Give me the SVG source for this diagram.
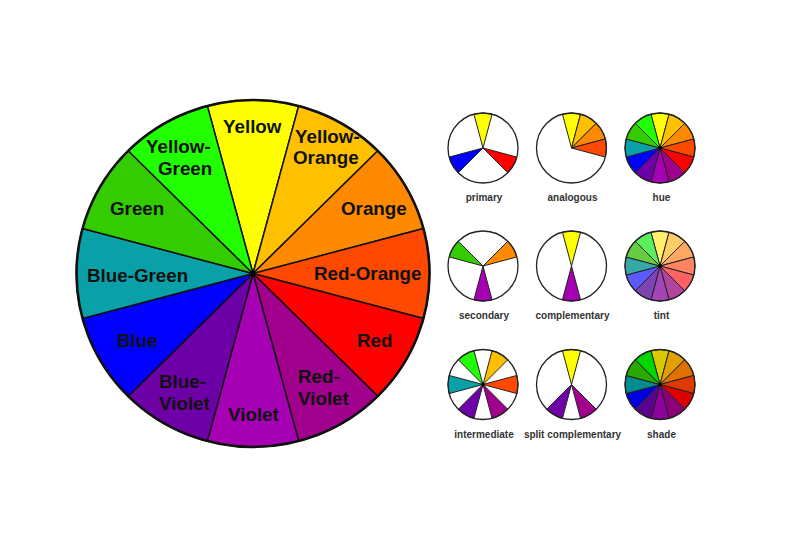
<svg xmlns="http://www.w3.org/2000/svg" xmlns:xlink="http://www.w3.org/1999/xlink" width="800" height="538" viewBox="0 0 800 538">
<style>
.bw{stroke:#111;stroke-width:1.5;stroke-linejoin:round}
.big{font-family:"Liberation Sans",Arial,sans-serif;font-weight:bold;font-size:18.8px;fill:#111}
.sm{font-family:"Liberation Sans",Arial,sans-serif;font-weight:bold;font-size:10px;fill:#333;text-anchor:middle}
.sw{stroke:#222;stroke-width:1;stroke-linejoin:round}
.rim{fill:none;stroke:#222;stroke-width:1.3}
.bg{fill:#fff}
</style>
<defs>
<path id="s0" d="M0 0L-9.06 -33.81A35 35 0 0 1 9.06 -33.81Z"/>
<path id="s1" d="M0 0L9.06 -33.81A35 35 0 0 1 24.75 -24.75Z"/>
<path id="s2" d="M0 0L24.75 -24.75A35 35 0 0 1 33.81 -9.06Z"/>
<path id="s3" d="M0 0L33.81 -9.06A35 35 0 0 1 33.81 9.06Z"/>
<path id="s4" d="M0 0L33.81 9.06A35 35 0 0 1 24.75 24.75Z"/>
<path id="s5" d="M0 0L24.75 24.75A35 35 0 0 1 9.06 33.81Z"/>
<path id="s6" d="M0 0L9.06 33.81A35 35 0 0 1 -9.06 33.81Z"/>
<path id="s7" d="M0 0L-9.06 33.81A35 35 0 0 1 -24.75 24.75Z"/>
<path id="s8" d="M0 0L-24.75 24.75A35 35 0 0 1 -33.81 9.06Z"/>
<path id="s9" d="M0 0L-33.81 9.06A35 35 0 0 1 -33.81 -9.06Z"/>
<path id="s10" d="M0 0L-33.81 -9.06A35 35 0 0 1 -24.75 -24.75Z"/>
<path id="s11" d="M0 0L-24.75 -24.75A35 35 0 0 1 -9.06 -33.81Z"/>
</defs>
<rect width="800" height="538" fill="#fff"/>

<g id="big-wheel">
<path class="bw" fill="#ffff00" d="M253 273.5L207.32 105.91A176.5 173.5 0 0 1 298.68 105.91Z"/>
<path class="bw" fill="#ffc000" d="M253 273.5L298.68 105.91A176.5 173.5 0 0 1 377.8 150.82Z"/>
<path class="bw" fill="#ff8a00" d="M253 273.5L377.8 150.82A176.5 173.5 0 0 1 423.49 228.59Z"/>
<path class="bw" fill="#ff4800" d="M253 273.5L423.49 228.59A176.5 173.5 0 0 1 423.49 318.41Z"/>
<path class="bw" fill="#ff0000" d="M253 273.5L423.49 318.41A176.5 173.5 0 0 1 377.8 396.18Z"/>
<path class="bw" fill="#a0008c" d="M253 273.5L377.8 396.18A176.5 173.5 0 0 1 298.68 441.09Z"/>
<path class="bw" fill="#a600b4" d="M253 273.5L298.68 441.09A176.5 173.5 0 0 1 207.32 441.09Z"/>
<path class="bw" fill="#6e00a8" d="M253 273.5L207.32 441.09A176.5 173.5 0 0 1 128.2 396.18Z"/>
<path class="bw" fill="#0000ff" d="M253 273.5L128.2 396.18A176.5 173.5 0 0 1 82.51 318.41Z"/>
<path class="bw" fill="#0aa0a8" d="M253 273.5L82.51 318.41A176.5 173.5 0 0 1 82.51 228.59Z"/>
<path class="bw" fill="#33cc00" d="M253 273.5L82.51 228.59A176.5 173.5 0 0 1 128.2 150.82Z"/>
<path class="bw" fill="#22ff00" d="M253 273.5L128.2 150.82A176.5 173.5 0 0 1 207.32 105.91Z"/>
<ellipse cx="253" cy="273.5" rx="176.5" ry="173.5" fill="none" stroke="#111" stroke-width="2.6"/>
<circle cx="253" cy="273.5" r="2.5" fill="#000"/>
<text class="big" x="223" y="133">Yellow</text>
<text class="big" x="295" y="143">Yellow-</text>
<text class="big" x="293" y="164">Orange</text>
<text class="big" x="146" y="153">Yellow-</text>
<text class="big" x="158" y="175">Green</text>
<text class="big" x="110" y="215">Green</text>
<text class="big" x="341" y="215">Orange</text>
<text class="big" x="87" y="282">Blue-Green</text>
<text class="big" x="314" y="280">Red-Orange</text>
<text class="big" x="117" y="347">Blue</text>
<text class="big" x="357" y="347">Red</text>
<text class="big" x="159" y="388">Blue-</text>
<text class="big" x="159" y="410">Violet</text>
<text class="big" x="228" y="421">Violet</text>
<text class="big" x="298" y="383">Red-</text>
<text class="big" x="298" y="405">Violet</text>
</g>

<g id="primary" transform="translate(483,148)">
<circle class="bg" r="35"/>
<use xlink:href="#s0" class="sw" fill="#ffff00"/>
<use xlink:href="#s4" class="sw" fill="#ff0000"/>
<use xlink:href="#s8" class="sw" fill="#0000ff"/>
<circle class="rim" r="35"/>
<text class="sm" x="1" y="53">primary</text>
</g>

<g id="analogous" transform="translate(571.5,148)">
<circle class="bg" r="35"/>
<use xlink:href="#s0" class="sw" fill="#ffff00"/>
<use xlink:href="#s1" class="sw" fill="#ffc000"/>
<use xlink:href="#s2" class="sw" fill="#ff8a00"/>
<use xlink:href="#s3" class="sw" fill="#ff4800"/>
<circle class="rim" r="35"/>
<text class="sm" x="1" y="53">analogous</text>
</g>

<g id="hue" transform="translate(660,148)">
<use xlink:href="#s0" class="sw" fill="#ffff00"/>
<use xlink:href="#s1" class="sw" fill="#ffc000"/>
<use xlink:href="#s2" class="sw" fill="#ff8a00"/>
<use xlink:href="#s3" class="sw" fill="#ff4800"/>
<use xlink:href="#s4" class="sw" fill="#ff0000"/>
<use xlink:href="#s5" class="sw" fill="#a0008c"/>
<use xlink:href="#s6" class="sw" fill="#a600b4"/>
<use xlink:href="#s7" class="sw" fill="#6e00a8"/>
<use xlink:href="#s8" class="sw" fill="#0000ff"/>
<use xlink:href="#s9" class="sw" fill="#0aa0a8"/>
<use xlink:href="#s10" class="sw" fill="#33cc00"/>
<use xlink:href="#s11" class="sw" fill="#22ff00"/>
<circle class="rim" r="35"/>
<circle r="1.8" fill="#000"/>
<text class="sm" x="1.5" y="53">hue</text>
</g>

<g id="secondary" transform="translate(483,266)">
<circle class="bg" r="35"/>
<use xlink:href="#s2" class="sw" fill="#ff8a00"/>
<use xlink:href="#s6" class="sw" fill="#a600b4"/>
<use xlink:href="#s10" class="sw" fill="#33cc00"/>
<circle class="rim" r="35"/>
<text class="sm" x="1" y="53">secondary</text>
</g>

<g id="complementary" transform="translate(571.5,266)">
<circle class="bg" r="35"/>
<use xlink:href="#s0" class="sw" fill="#ffff00"/>
<use xlink:href="#s6" class="sw" fill="#a600b4"/>
<circle class="rim" r="35"/>
<text class="sm" x="1" y="53">complementary</text>
</g>

<g id="tint" transform="translate(660,266)">
<use xlink:href="#s0" class="sw" fill="#ffef6b"/>
<use xlink:href="#s1" class="sw" fill="#ffcc66"/>
<use xlink:href="#s2" class="sw" fill="#ffa862"/>
<use xlink:href="#s3" class="sw" fill="#ff8462"/>
<use xlink:href="#s4" class="sw" fill="#ff6262"/>
<use xlink:href="#s5" class="sw" fill="#b0449e"/>
<use xlink:href="#s6" class="sw" fill="#a444b8"/>
<use xlink:href="#s7" class="sw" fill="#7e44b4"/>
<use xlink:href="#s8" class="sw" fill="#5a5aff"/>
<use xlink:href="#s9" class="sw" fill="#36a8a8"/>
<use xlink:href="#s10" class="sw" fill="#66cc44"/>
<use xlink:href="#s11" class="sw" fill="#5cee5c"/>
<circle class="rim" r="35"/>
<circle r="1.8" fill="#000"/>
<text class="sm" x="1.5" y="53">tint</text>
</g>

<g id="intermediate" transform="translate(483,384.5)">
<circle class="bg" r="35"/>
<use xlink:href="#s1" class="sw" fill="#ffc000"/>
<use xlink:href="#s3" class="sw" fill="#ff4800"/>
<use xlink:href="#s5" class="sw" fill="#a0008c"/>
<use xlink:href="#s7" class="sw" fill="#6e00a8"/>
<use xlink:href="#s9" class="sw" fill="#0aa0a8"/>
<use xlink:href="#s11" class="sw" fill="#22ff00"/>
<circle class="rim" r="35"/>
<circle r="1.8" fill="#000"/>
<text class="sm" x="1" y="53.5">intermediate</text>
</g>

<g id="split-complementary" transform="translate(571.5,384.5)">
<circle class="bg" r="35"/>
<use xlink:href="#s0" class="sw" fill="#ffff00"/>
<use xlink:href="#s5" class="sw" fill="#a0008c"/>
<use xlink:href="#s7" class="sw" fill="#6e00a8"/>
<circle class="rim" r="35"/>
<text class="sm" x="1" y="53.5">split complementary</text>
</g>

<g id="shade" transform="translate(660,384.5)">
<use xlink:href="#s0" class="sw" fill="#d8c800"/>
<use xlink:href="#s1" class="sw" fill="#e0a000"/>
<use xlink:href="#s2" class="sw" fill="#e07000"/>
<use xlink:href="#s3" class="sw" fill="#e03a00"/>
<use xlink:href="#s4" class="sw" fill="#dd0000"/>
<use xlink:href="#s5" class="sw" fill="#8c0078"/>
<use xlink:href="#s6" class="sw" fill="#8c009c"/>
<use xlink:href="#s7" class="sw" fill="#5c0090"/>
<use xlink:href="#s8" class="sw" fill="#0000dd"/>
<use xlink:href="#s9" class="sw" fill="#008c90"/>
<use xlink:href="#s10" class="sw" fill="#2aaa00"/>
<use xlink:href="#s11" class="sw" fill="#00d800"/>
<circle class="rim" r="35"/>
<circle r="1.8" fill="#000"/>
<text class="sm" x="1.5" y="53.5">shade</text>
</g>
</svg>
